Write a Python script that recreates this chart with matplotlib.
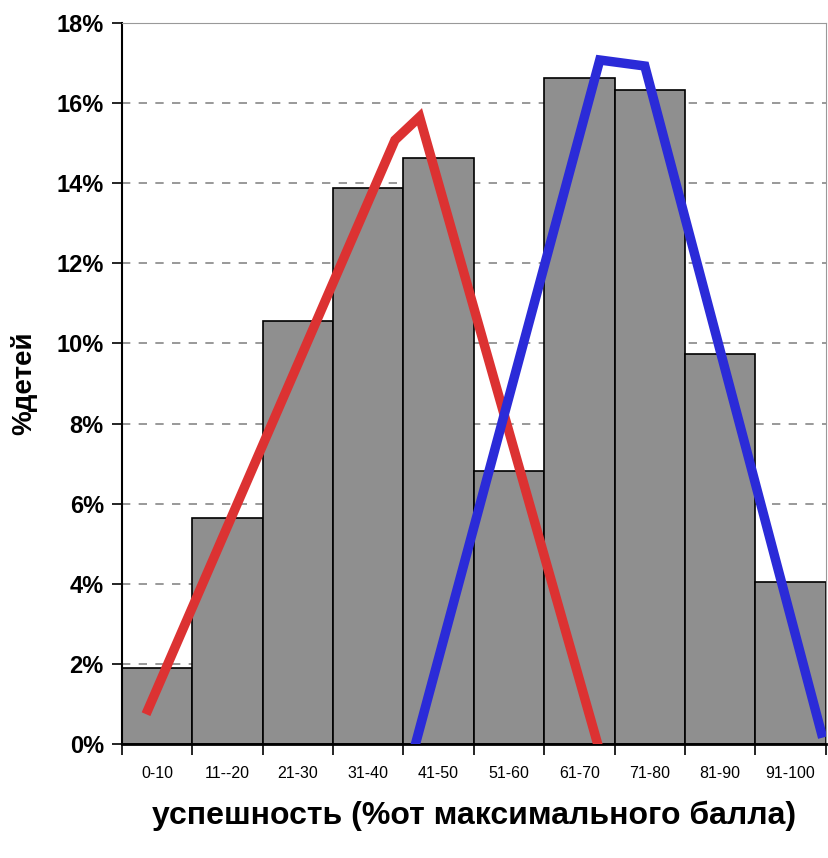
import numpy as np
import matplotlib
matplotlib.use('Agg')
import matplotlib.pyplot as plt
from matplotlib.ticker import FuncFormatter

plt.rcParams['font.family'] = ['Liberation Sans Narrow', 'Liberation Sans', 'DejaVu Sans']

categories = ['0-10', '11--20', '21-30', '31-40', '41-50',
              '51-60', '61-70', '71-80', '81-90', '91-100']
shares = [1.9, 5.65, 10.55, 13.88, 14.63, 6.82, 16.62, 16.32, 9.73, 4.05]

# hand-drawn lines over the bars (x in bar units, y in %)
red_x = [-0.13, 3.38, 3.73, 6.26]
red_y = [0.85, 15.08, 15.66, 0.0]
blue_x = [3.68, 6.29, 6.93, 9.44]
blue_y = [0.05, 17.08, 16.93, 0.27]

fig = plt.figure(figsize=(8.29, 8.58), dpi=100)
ax = fig.add_axes([0.147, 0.133, 0.849, 0.840])

x = np.arange(len(categories))
ax.bar(x, shares, width=1.0, color='#8f8f8f', edgecolor='black', linewidth=1.2, zorder=2)
ax.plot(red_x, red_y, color='#dc3232', linewidth=6.8, solid_joinstyle='miter', zorder=3)
ax.plot(blue_x, blue_y, color='#2b2bd8', linewidth=6.8, solid_joinstyle='miter', zorder=3)

ax.set_xlim(-0.5, 9.5)
ax.set_ylim(0, 18)
ax.set_yticks(range(0, 19, 2))
ax.yaxis.set_major_formatter(FuncFormatter(lambda v, p: '%d%%' % v))
ax.set_xticks(x)
ax.set_xticklabels(categories, fontsize=11.5)
ax.set_xticks(np.arange(-0.5, 10, 1), minor=True)
ax.tick_params(axis='x', which='major', length=0, pad=16)
ax.tick_params(axis='x', which='minor', length=8, width=1.2, direction='out')
ax.tick_params(axis='y', length=7, width=1.2, direction='out', labelsize=17, pad=6)
for lbl in ax.get_yticklabels():
    lbl.set_fontweight('bold')

ax.yaxis.grid(True, linestyle=(0, (5, 5)), color='#888888', linewidth=1.2, zorder=0)
ax.set_axisbelow(True)

ax.spines['left'].set_linewidth(1.5)
ax.spines['bottom'].set_linewidth(2)
ax.spines['top'].set_color('#999999')
ax.spines['right'].set_color('#999999')

ax.set_ylabel('%детей', fontsize=20, fontweight='bold', labelpad=14)
ax.set_xlabel('успешность (%от максимального балла)', fontsize=23, fontweight='bold', labelpad=14)

fig.savefig('out.png', dpi=100)
